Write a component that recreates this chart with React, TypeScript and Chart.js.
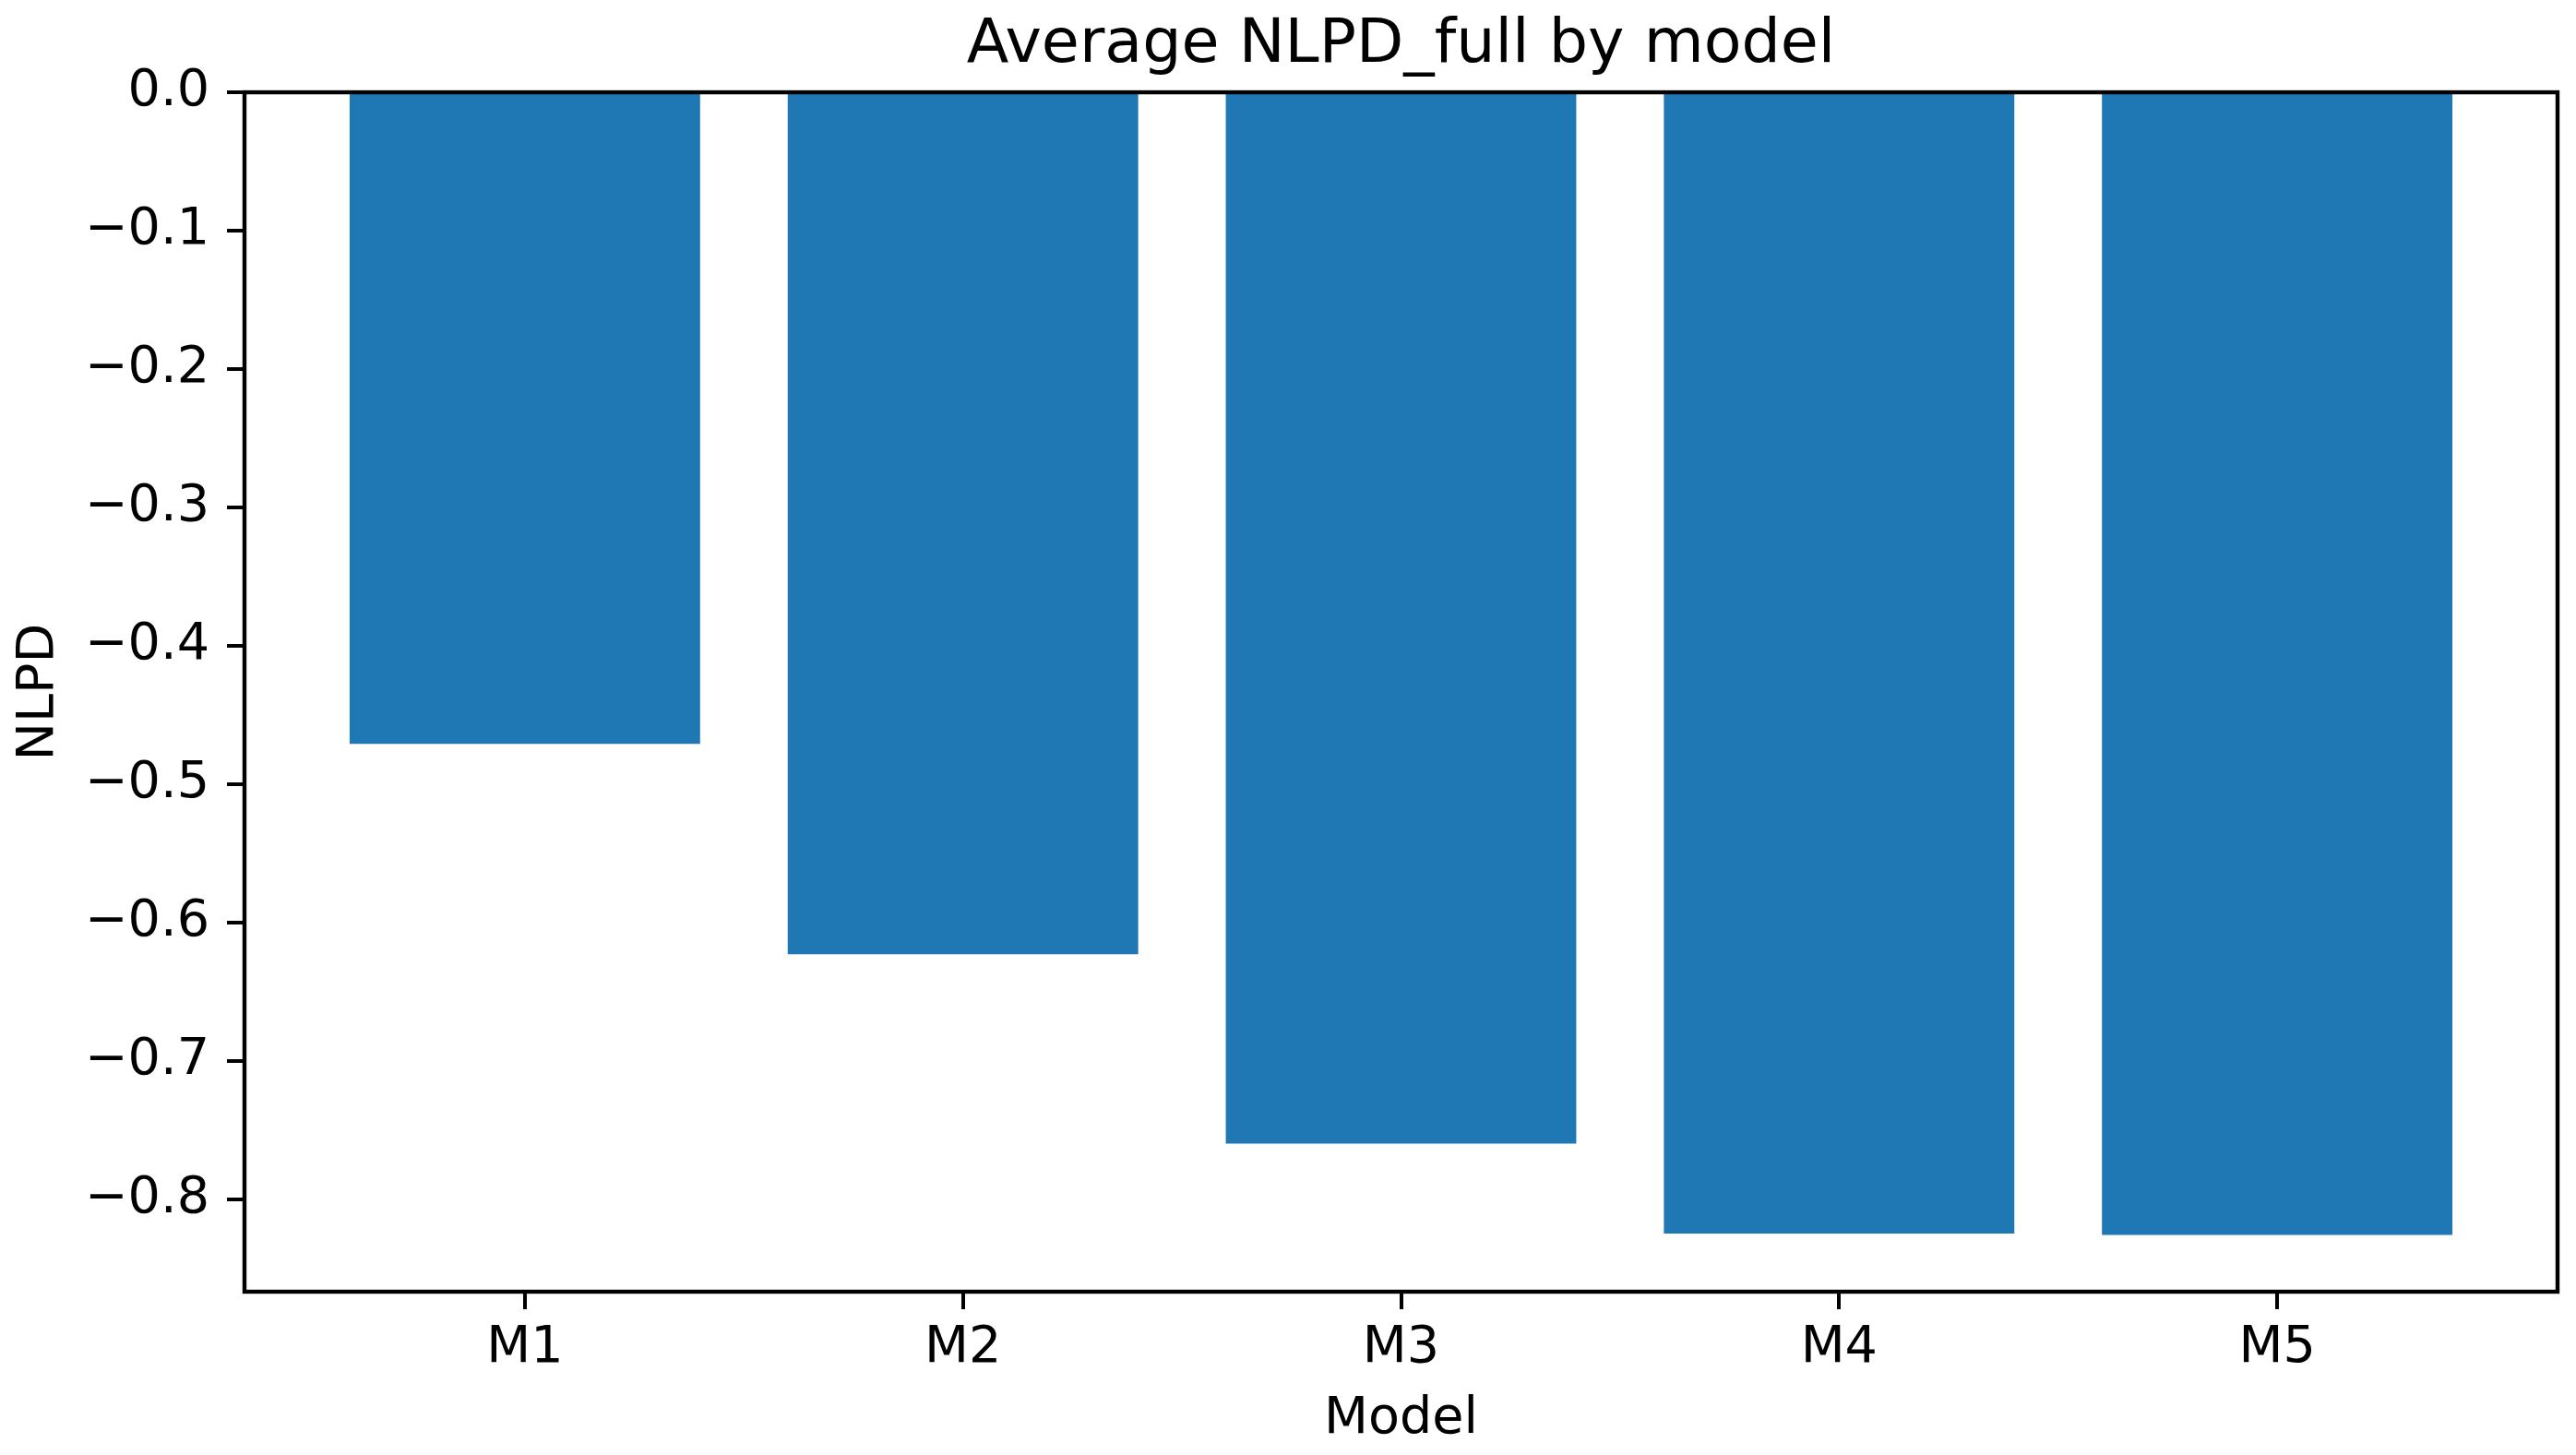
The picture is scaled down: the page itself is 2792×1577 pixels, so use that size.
import React, { useEffect, useRef } from 'react'
import { Chart, registerables, type ChartConfiguration } from 'chart.js'

Chart.register(...registerables)

const categories = ['M1', 'M2', 'M3', 'M4', 'M5']
const nlpd = [-0.471, -0.623, -0.760, -0.825, -0.826]
const yTicks = [0, -0.1, -0.2, -0.3, -0.4, -0.5, -0.6, -0.7, -0.8]
const yMin = -0.867
const xMin = -0.64
const xMax = 4.64

const FONT = 'DejaVu Sans'

const framePlugin = {
  id: 'frame',
  afterDraw(chart: Chart) {
    const { ctx, chartArea: a } = chart
    ctx.save()
    ctx.strokeStyle = '#000'
    ctx.lineWidth = 4.4
    ctx.lineJoin = 'miter'
    ctx.strokeRect(a.left, a.top, a.right - a.left, a.bottom - a.top)
    ctx.restore()
  },
}

export default function App() {
  const canvasRef = useRef<HTMLCanvasElement>(null)
  const chartRef = useRef<Chart | null>(null)

  useEffect(() => {
    if (!canvasRef.current) return
    chartRef.current?.destroy()

    const cfg: ChartConfiguration = {
      type: 'bar',
      data: {
        datasets: [
          {
            label: 'NLPD_full',
            data: nlpd.map((v, i) => ({ x: i, y: v })),
            backgroundColor: '#1f77b4',
            borderWidth: 0,
            categoryPercentage: 0.8,
            barPercentage: 1,
          },
        ],
      },
      options: {
        responsive: true,
        maintainAspectRatio: false,
        animation: false,
        devicePixelRatio: 1,
        layout: { padding: { left: 0, right: 20, top: 0, bottom: 0 } },
        plugins: {
          legend: { display: false },
          tooltip: { enabled: false },
          title: {
            display: true,
            fullSize: false,
            text: 'Average NLPD_full by model',
            color: '#000',
            font: { family: FONT, size: 66.7, weight: 'normal', lineHeight: 1.2 },
            padding: { top: 10, bottom: 10 },
          },
        },
        scales: {
          x: {
            type: 'linear',
            min: xMin,
            max: xMax,
            offset: false,
            afterBuildTicks: (s: any) => { s.ticks = categories.map((_, i) => ({ value: i })) },
            afterFit: (s: any) => { s.height = 177 },
            ticks: {
              color: '#000',
              font: { family: FONT, size: 55.6, lineHeight: 1.2 },
              padding: 9.6,
              autoSkip: false,
              maxRotation: 0,
              callback: (v: any) => categories[Math.round(Number(v))] ?? '',
            },
            grid: { offset: false, drawOnChartArea: false, drawTicks: true, tickLength: 19, color: '#000', lineWidth: 4 },
            border: { display: false },
            title: {
              display: true,
              text: 'Model',
              color: '#000',
              font: { family: FONT, size: 55.6, lineHeight: 1.2 },
              padding: { top: 0, bottom: 4.6 },
            },
          },
          y: {
            type: 'linear',
            min: yMin,
            max: 0,
            afterBuildTicks: (s: any) => { s.ticks = yTicks.map(v => ({ value: v })) },
            afterFit: (s: any) => { s.width = 265 },
            ticks: {
              color: '#000',
              font: { family: FONT, size: 55.6, lineHeight: 1.2 },
              padding: 19,
              callback: (v: any) => {
                const n = Number(v)
                return Math.abs(n) < 1e-9 ? '0.0' : '\u2212' + Math.abs(n).toFixed(1)
              },
            },
            grid: { drawOnChartArea: false, drawTicks: true, tickLength: 19, color: '#000', lineWidth: 4 },
            border: { display: false },
            title: {
              display: true,
              text: 'NLPD',
              color: '#000',
              font: { family: FONT, size: 55.6, lineHeight: 1.2 },
              padding: { top: 9.6, bottom: 0 },
            },
          },
        },
      },
      plugins: [framePlugin],
    }
    chartRef.current = new Chart(canvasRef.current, cfg)
    return () => { chartRef.current?.destroy() }
  }, [])

  return (
    <div style={{ position: 'absolute', left: 0, top: 0, width: 2792, height: 1577, background: '#fff' }}>
      <canvas ref={canvasRef} style={{ width: '100%', height: '100%' }} />
    </div>
  )
}
